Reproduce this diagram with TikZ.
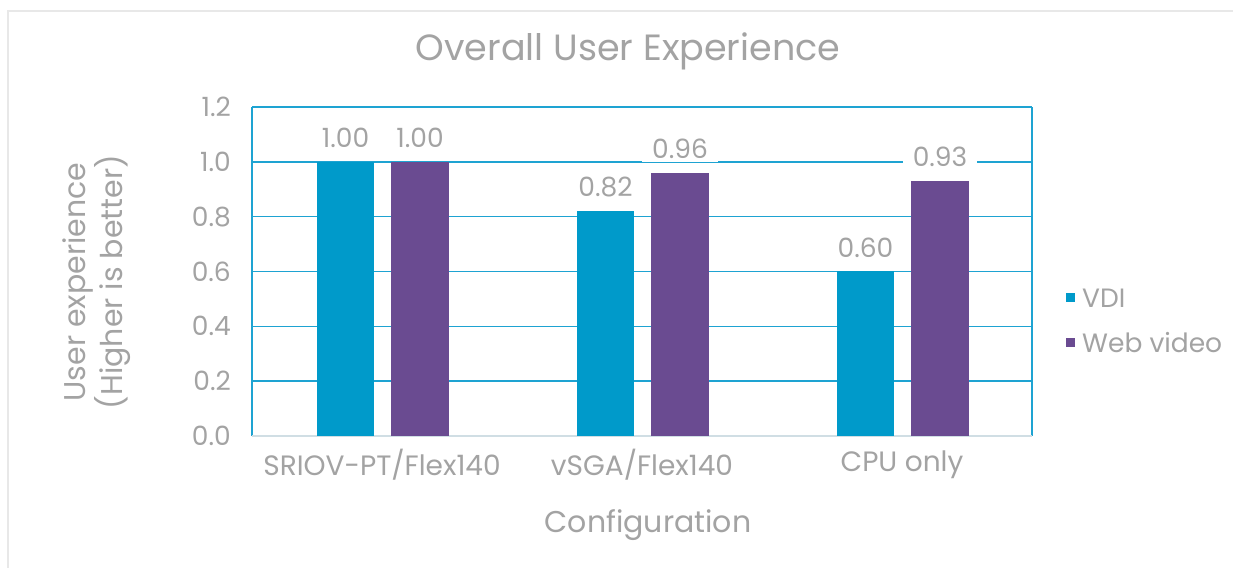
\documentclass[tikz,border=0pt]{standalone}
\usepackage{fontspec}
\setmainfont{Poppins}
\definecolor{vdi}{RGB}{0,154,202}
\definecolor{web}{RGB}{106,75,145}
\definecolor{gridc}{RGB}{30,163,210}
\definecolor{txt}{RGB}{163,163,163}
\definecolor{framec}{RGB}{232,232,232}
\definecolor{axisc}{RGB}{208,222,228}
\tikzset{
  lbl/.style={text=txt, inner sep=0pt},
  tick/.style={lbl, anchor=east, font=\fontsize{26.5}{30}\selectfont},
  dlab/.style={lbl, fill=white, inner xsep=10pt, inner ysep=3pt, font=\fontsize{26.5}{30}\selectfont},
  cat/.style={lbl, font=\fontsize{28}{32}\selectfont},
  gline/.style={gridc, line width=1.6pt},
  vbar/.style={fill=vdi},
  wbar/.style={fill=web},
}
\begin{document}
\begin{tikzpicture}[x=1pt,y=1pt]
\useasboundingbox (0,0) rectangle (1233,568);
\fill[white] (0,0) rectangle (1233,568);
% outer frame
\coordinate (fa) at (8,0);
\coordinate (fb) at (8,557);
\coordinate (fc) at (1233,557);
\draw[framec, line width=1.5pt] (fa) -- (fb) -- (fc);
% plot area corners
\coordinate (pl) at (252,132);
\coordinate (pr) at (1032,132);
\coordinate (tl) at (252,461);
\coordinate (tr) at (1032,461);
% gridlines
\foreach \v in {0.2,0.4,0.6,0.8,1.0,1.2}{
  \draw[gline] (252,{132+\v*274.17}) -- (1032,{132+\v*274.17});
}
\draw[gline] (pl) -- (tl);
\draw[gline] (pr) -- (tr);
\draw[axisc, line width=1.6pt] (pl) -- (pr);
% tick labels
\foreach \v/\t in {0/0.0,0.2/0.2,0.4/0.4,0.6/0.6,0.8/0.8,1.0/1.0,1.2/1.2}{
  \node[tick] at (231,{132+\v*274.17}) {\t};
}
% bars
\fill[vbar] (317,132) rectangle (374,{132+1.00*274.17});
\fill[wbar] (391,132) rectangle (449,{132+1.00*274.17});
\fill[vbar] (577,132) rectangle (634,{132+0.82*274.17});
\fill[wbar] (651,132) rectangle (709,{132+0.96*274.17});
\fill[vbar] (837,132) rectangle (894,{132+0.60*274.17});
\fill[wbar] (911,132) rectangle (969,{132+0.93*274.17});
% data labels
\node[dlab] (d1) at (345.5,{156+1.00*274.17}) {1.00};
\node[dlab] (d2) at (420,{156+1.00*274.17}) {1.00};
\node[dlab] (d3) at (605.5,{156+0.82*274.17}) {0.82};
\node[dlab] (d4) at (680,{156+0.96*274.17}) {0.96};
\node[dlab] (d5) at (865.5,{156+0.60*274.17}) {0.60};
\node[dlab] (d6) at (940,{156+0.93*274.17}) {0.93};
% category labels
\node[cat] (c1) at (382,103) {SRIOV-PT/Flex140};
\node[cat] (c2) at (642,103) {vSGA/Flex140};
\node[cat] (c3) at (902,103) {CPU only};
% axis titles
\node[lbl, font=\fontsize{30}{34}\selectfont] (xt) at (648,43) {Configuration};
\node[lbl, rotate=90, align=center, font=\fontsize{30}{33}\selectfont] (yt) at (97,286) {User experience\\(Higher is better)};
\node[lbl, font=\fontsize{36.5}{40}\selectfont] (title) at (628,517) {Overall User Experience};
% legend
\fill[vdi] (1066,266) rectangle (1075,275);
\node[lbl, anchor=west, font=\fontsize{26.5}{30}\selectfont] (l1) at (1082,270) {VDI};
\fill[web] (1066,221) rectangle (1075,230);
\node[lbl, anchor=west, font=\fontsize{26.5}{30}\selectfont] (l2) at (1082,225) {Web video};
\end{tikzpicture}
\end{document}
